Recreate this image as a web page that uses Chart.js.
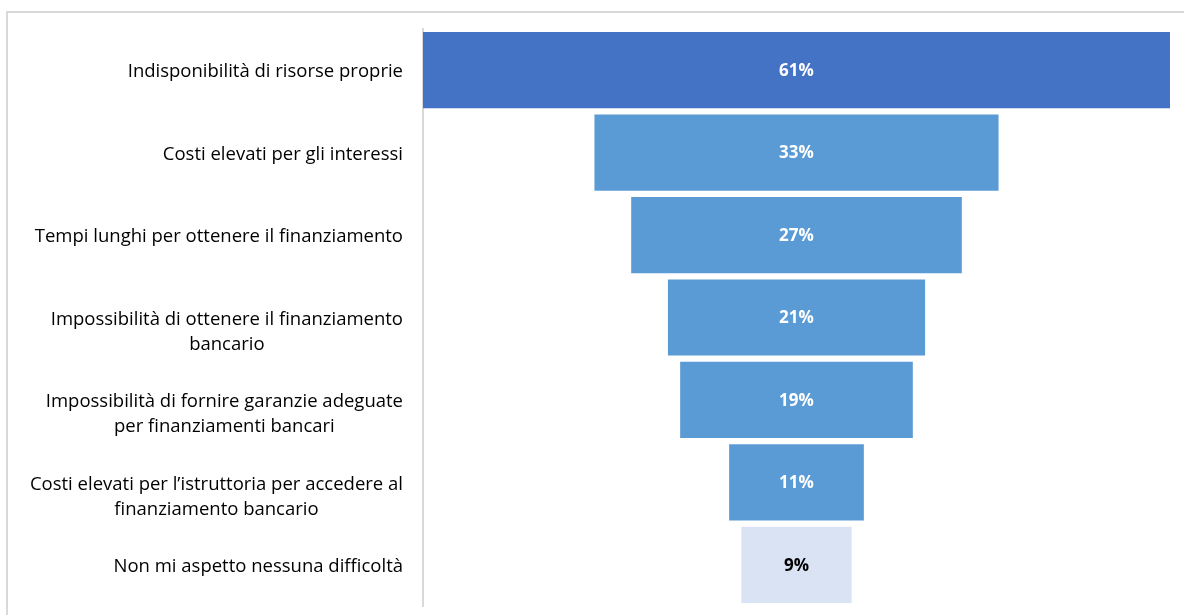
<!DOCTYPE html>
<html>
<head>
<meta charset="utf-8">
<title>Difficoltà di accesso al finanziamento</title>
<script src="https://cdn.jsdelivr.net/npm/chart.js@4/dist/chart.umd.min.js"></script>
<style>
  html, body { margin: 0; padding: 0; background: #ffffff; }
  canvas { display: block; }
</style>
</head>
<body>
<canvas id="funnel" width="1184" height="615"></canvas>
<script>
// Categories (one entry per line of the label)
const categories = [
    ['Indisponibilità di risorse proprie'],
    ['Costi elevati per gli interessi'],
    ['Tempi lunghi per ottenere il finanziamento'],
    ['Impossibilità di ottenere il finanziamento', 'bancario'],
    ['Impossibilità di fornire garanzie adeguate', 'per finanziamenti bancari'],
    ['Costi elevati per l\u2019istruttoria per accedere al', 'finanziamento bancario'],
    ['Non mi aspetto nessuna difficoltà']
];
const values = [61, 33, 27, 21, 19, 11, 9];
const barColors = ['#4472C4', '#5B9BD5', '#5B9BD5', '#5B9BD5', '#5B9BD5', '#5B9BD5', '#DAE3F3'];
const textColors = ['#ffffff', '#ffffff', '#ffffff', '#ffffff', '#ffffff', '#ffffff', '#000000'];

const FONT = '"Open Sans", "Noto Sans", sans-serif';
const maxVal = Math.max(...values);

// thin grey frame along the top and left edge
const framePlugin = {
    id: 'frame',
    beforeDraw(chart) {
        const ctx = chart.ctx;
        ctx.save();
        ctx.strokeStyle = '#d9d9d9';
        ctx.lineWidth = 2;
        ctx.beginPath();
        ctx.moveTo(7, chart.height);
        ctx.lineTo(7, 12);
        ctx.lineTo(chart.width, 12);
        ctx.stroke();
        ctx.restore();
    }
};

// category labels: block right-aligned, lines centred inside the block,
// first line sits on the bar centre
const categoryLabels = {
    id: 'categoryLabels',
    afterDraw(chart) {
        const ctx = chart.ctx;
        const yScale = chart.scales.y;
        const right = chart.chartArea.left - 20;
        ctx.save();
        ctx.font = '18.5px ' + FONT;
        ctx.fillStyle = '#000000';
        ctx.textAlign = 'center';
        ctx.textBaseline = 'middle';
        categories.forEach((lines, i) => {
            const y = yScale.getPixelForValue(i) + 2;
            const w = Math.max(...lines.map(l => ctx.measureText(l).width));
            const cx = right - w / 2;
            lines.forEach((line, k) => ctx.fillText(line, cx, y + k * 25));
        });
        ctx.restore();
    }
};

// percentage labels in the middle of each bar
const valueLabels = {
    id: 'valueLabels',
    afterDatasetsDraw(chart) {
        const ctx = chart.ctx;
        const meta = chart.getDatasetMeta(0);
        ctx.save();
        ctx.font = 'bold 17px ' + FONT;
        ctx.textAlign = 'center';
        ctx.textBaseline = 'middle';
        meta.data.forEach((bar, i) => {
            ctx.fillStyle = textColors[i];
            ctx.fillText(values[i] + '%', (bar.x + bar.base) / 2, bar.y + 1);
        });
        ctx.restore();
    }
};

new Chart(document.getElementById('funnel'), {
    type: 'bar',
    data: {
        labels: categories,
        datasets: [{
            data: values.map(v => [-v / 2, v / 2]),
            backgroundColor: barColors,
            borderWidth: 0,
            barPercentage: 0.925,
            categoryPercentage: 1
        }]
    },
    options: {
        indexAxis: 'y',
        responsive: false,
        animation: false,
        layout: { padding: { top: 29, right: 14, bottom: 9, left: 0 } },
        plugins: {
            legend: { display: false },
            tooltip: { enabled: false }
        },
        scales: {
            x: {
                display: false,
                min: -maxVal / 2,
                max: maxVal / 2
            },
            y: {
                grid: { display: false },
                border: { display: true, color: '#d9d9d9', width: 2 },
                ticks: { display: false },
                afterFit: (scale) => { scale.width = 423; }
            }
        }
    },
    plugins: [framePlugin, categoryLabels, valueLabels]
});
</script>
</body>
</html>
